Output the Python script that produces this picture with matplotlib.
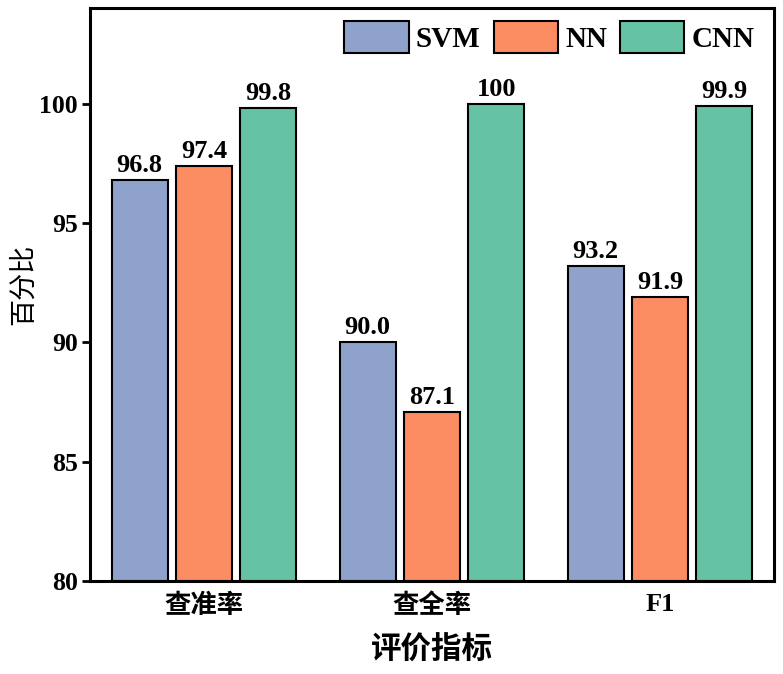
import numpy as np
import matplotlib
matplotlib.use('Agg')
import matplotlib.pyplot as plt

plt.rcParams['font.family'] = ['Liberation Serif', 'Noto Sans CJK SC']
plt.rcParams['font.weight'] = 'bold'

# 数据
categories = ['查准率', '查全率', 'F1']
models = ['SVM', 'NN', 'CNN']
svm = [96.8, 90.0, 93.2]
nn = [97.4, 87.1, 91.9]
cnn = [99.8, 100, 99.9]
bar_labels = [['96.8', '90.0', '93.2'],
              ['97.4', '87.1', '91.9'],
              ['99.8', '100', '99.9']]
colors = ['#8fa2cc', '#fc8d62', '#66c2a5']

fig = plt.figure(figsize=(7.83, 6.74), dpi=100)
ax = fig.add_axes([0.115, 0.138, 0.8735, 0.850])

x = np.arange(len(categories))
width = 0.245
step = 0.282
series = [svm, nn, cnn]
for i, vals in enumerate(series):
    pos = x + (i - 1) * step
    bars = ax.bar(pos, np.array(vals) - 80, width, bottom=80, color=colors[i],
                  edgecolor='black', linewidth=1.5, label=models[i], zorder=2)
    for b, lab, v in zip(bars, bar_labels[i], vals):
        ax.text(b.get_x() + b.get_width() / 2, v + 0.12, lab, ha='center', va='bottom',
                fontsize=19, fontweight='bold', family='Liberation Serif')

ax.set_xlim(-0.5, 2.5)
ax.set_ylim(80, 104)
ax.set_yticks([80, 85, 90, 95, 100])
ax.set_xticks(x)
ax.set_xticklabels(categories)
for lab in ax.get_xticklabels():
    lab.set_fontsize(19)
    lab.set_fontweight('bold')
for lab in ax.get_yticklabels():
    lab.set_fontsize(18.5)
    lab.set_fontweight('bold')
ax.tick_params(axis='y', direction='out', length=6, width=2, pad=3)
ax.tick_params(axis='x', length=0, pad=9)

for s in ax.spines.values():
    s.set_linewidth(2.2)

ax.set_xlabel('评价指标', fontsize=22, fontweight='bold', family='Noto Sans CJK SC', labelpad=11)
ax.set_ylabel('百分比', fontsize=19.5, fontweight='normal', family='Noto Sans CJK SC')
ax.yaxis.set_label_coords(-0.078, 0.517)

leg = ax.legend(loc='upper right', bbox_to_anchor=(0.991, 1.0), ncol=3, frameon=False,
                fontsize=21, handlelength=2.2, handleheight=1.3, columnspacing=0.45,
                handletextpad=0.25, borderaxespad=0.15, borderpad=0.3)
for t in leg.get_texts():
    t.set_fontweight('bold')

plt.savefig('out.png', dpi=100)
